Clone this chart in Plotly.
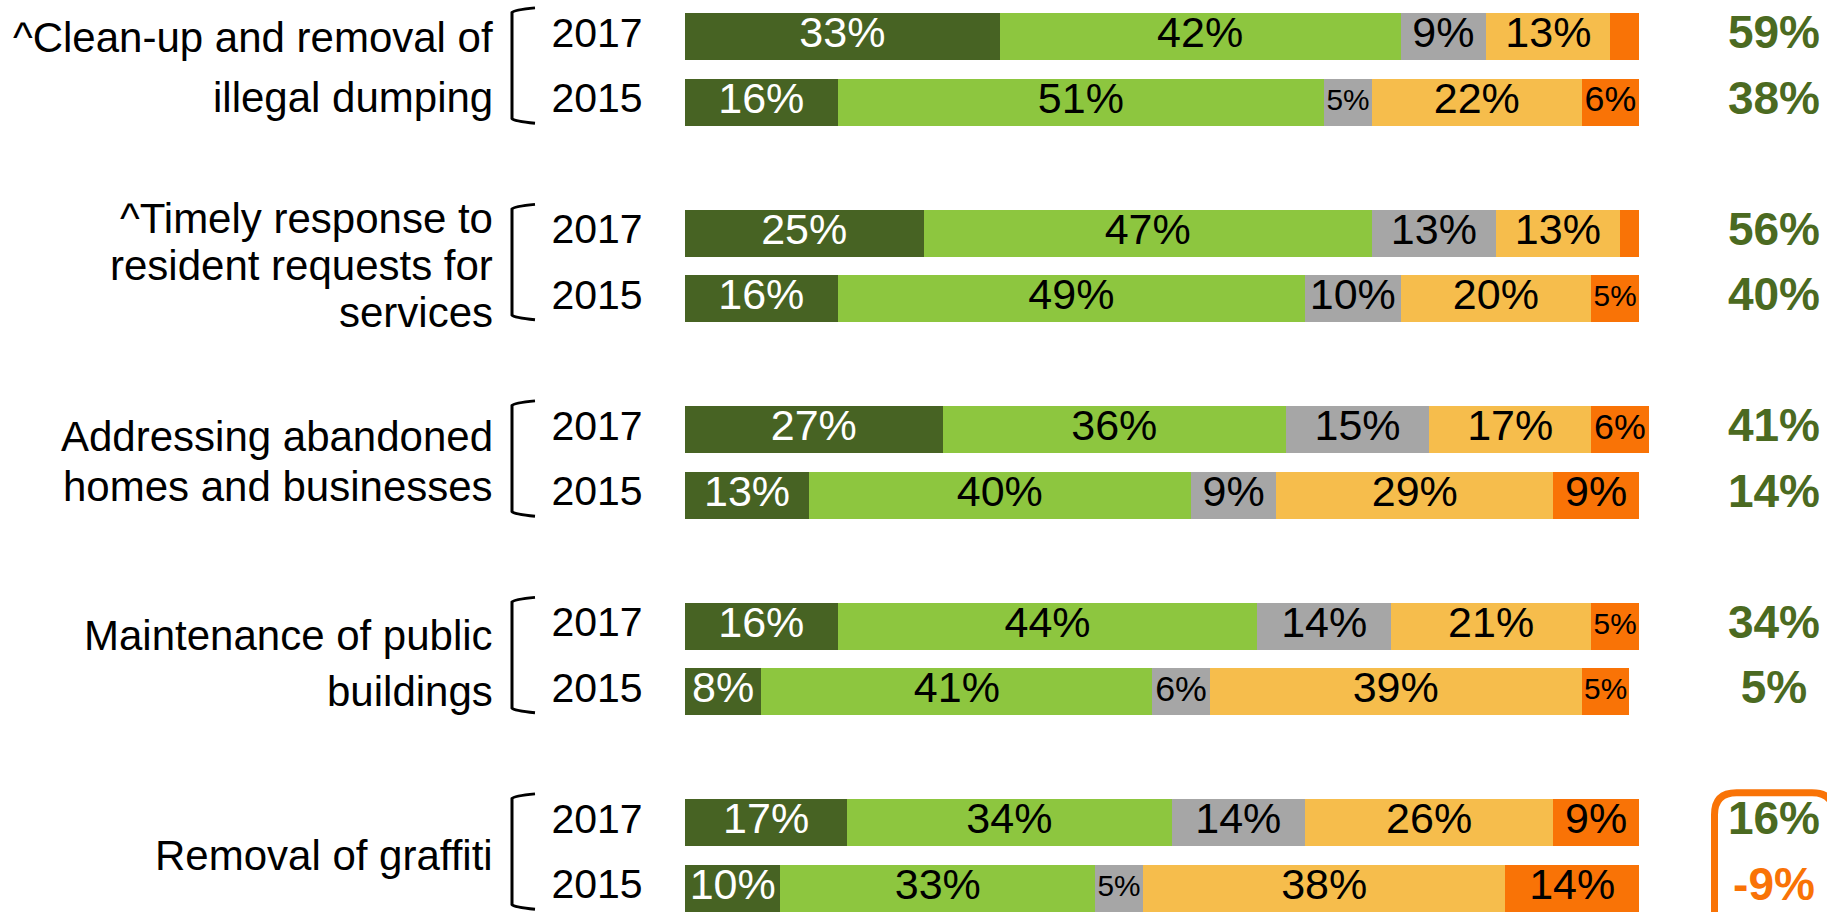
import plotly.graph_objects as go

W, H = 1827, 912
FONT = "Liberation Sans, Arial, sans-serif"

# Survey items and the two survey years shown for each
groups = [
    "^Clean-up and removal of<br>illegal dumping",
    "^Timely response to<br>resident requests for<br>services",
    "Addressing abandoned<br>homes and businesses",
    "Maintenance of public<br>buildings",
    "Removal of graffiti",
]
years = ["2017", "2015"]

# Percent of respondents per rating (2017, 2015 for each item)
very_satisfied = [33, 16, 25, 16, 27, 13, 16, 8, 17, 10]
satisfied = [42, 51, 47, 49, 36, 40, 44, 41, 34, 33]
neutral = [9, 5, 13, 10, 15, 9, 14, 6, 14, 5]
dissatisfied = [13, 22, 13, 20, 17, 29, 21, 39, 26, 38]
very_dissatisfied = [3, 6, 2, 5, 6, 9, 5, 5, 9, 14]

# Net satisfaction per row
net = [59, 38, 56, 40, 41, 14, 34, 5, 16, -9]

series = [
    ("Very satisfied", very_satisfied, "#476323", "white"),
    ("Satisfied", satisfied, "#8dc63f", "black"),
    ("Neutral", neutral, "#a6a6a6", "black"),
    ("Dissatisfied", dissatisfied, "#f6bd4c", "black"),
    ("Very dissatisfied", very_dissatisfied, "#f97306", "black"),
]

GREEN_TXT = "#4b6a21"
ORANGE = "#f97306"

# ---- layout geometry (pixels) ----
X0_PX, X100_PX = 685, 1639          # where 0% and 100% fall
PX_PER_PCT = (X100_PX - X0_PX) / 100.0
ROW0_PX, ROW_PX = 36.7, 65.5         # first row centre, row pitch
BAR_W = 0.72
LABEL_RIGHT_PX = 495
YEAR_CX_PX = 597
NET_CX_PX = 1774
BRACKET_X_PX, BRACKET_ARM_PX = 512, 535
LINE_GAP = [60, 47, 50, 56, 0]       # label line spacing per item
LABEL_DROP = [-2, 0, -1, 5, 0]       # small vertical nudge per item label
BAR_FONT = 43


def px_x(v):
    return (v - X0_PX) / PX_PER_PCT


def row_px(r):
    return ROW0_PX + r * ROW_PX


rows = [3 * g + i for g in range(len(groups)) for i in range(len(years))]
row_years = years * len(groups)

fig = go.Figure()

base = [0] * len(rows)
for name, vals, color, tcolor in series:
    fig.add_trace(go.Bar(
        y=rows, x=vals, orientation="h", width=BAR_W, name=name,
        marker=dict(color=color, line=dict(width=0)),
        hoverinfo="skip", showlegend=False,
    ))
    mids = [b + v / 2 for b, v in zip(base, vals)]
    sizes = [min(BAR_FONT, v * PX_PER_PCT / 1.6) for v in vals]
    texts = [f"{v}%" if v >= 5 else "" for v in vals]
    fig.add_trace(go.Scatter(
        x=mids, y=rows, mode="text", text=texts, textposition="middle center",
        textfont=dict(family=FONT, size=sizes, color=tcolor),
        hoverinfo="skip", showlegend=False,
    ))
    base = [b + v for b, v in zip(base, vals)]

# Year labels beside each bar
fig.add_trace(go.Scatter(
    x=[px_x(YEAR_CX_PX)] * len(rows), y=rows, mode="text", text=row_years,
    textposition="middle center", textfont=dict(family=FONT, size=41, color="black"),
    hoverinfo="skip", showlegend=False,
))

# Net satisfaction column
fig.add_trace(go.Scatter(
    x=[px_x(NET_CX_PX)] * len(rows), y=rows, mode="text",
    text=[f"<b>{v}%</b>" for v in net], textposition="middle center",
    textfont=dict(family=FONT, size=46,
                  color=[GREEN_TXT if v >= 0 else ORANGE for v in net]),
    hoverinfo="skip", showlegend=False,
))

annotations = []
shapes = []
for g, label in enumerate(groups):
    r17, r15 = 3 * g, 3 * g + 1
    centre = (r17 + r15) / 2
    lines = label.split("<br>")
    n = len(lines)
    for k, line in enumerate(lines):
        annotations.append(dict(
            xref="paper", yref="y", x=LABEL_RIGHT_PX / W, y=centre,
            yshift=-(k - (n - 1) / 2) * LINE_GAP[g] - LABEL_DROP[g],
            text=line, showarrow=False, xanchor="right", yanchor="middle",
            font=dict(family=FONT, size=42, color="black"),
        ))
    # bracket joining the two years of an item
    top = r17 - 0.40
    bot = r15 + 0.28
    xa, xv = BRACKET_ARM_PX / W, BRACKET_X_PX / W
    shapes.append(dict(
        type="path", xref="paper", yref="y",
        path=(f"M {xa},{top - 0.04} Q {xv + 2 / W},{top - 0.01} {xv},{top + 0.03} "
              f"L {xv},{bot - 0.03} Q {xv + 2 / W},{bot + 0.01} {xa},{bot + 0.04}"),
        line=dict(color="black", width=3),
    ))

# Highlight box around the last item's net values
last17, last15 = rows[-2], rows[-1]
bx0 = (NET_CX_PX - 59.5) / W
bx1 = (NET_CX_PX + 60) / W
by0 = 1 - (row_px(last17) - 30) / H
by1 = 1 - (row_px(last15) + 46) / H
rx, ry = 22 / W, 22 / H
shapes.append(dict(
    type="path", xref="paper", yref="paper",
    path=(f"M {bx0 + rx},{by0} L {bx1 - rx},{by0} Q {bx1},{by0} {bx1},{by0 - ry} "
          f"L {bx1},{by1 + ry} Q {bx1},{by1} {bx1 - rx},{by1} "
          f"L {bx0 + rx},{by1} Q {bx0},{by1} {bx0},{by1 + ry} "
          f"L {bx0},{by0 - ry} Q {bx0},{by0} {bx0 + rx},{by0} Z"),
    line=dict(color=ORANGE, width=7),
))

fig.update_layout(
    width=W, height=H, autosize=False,
    margin=dict(l=0, r=0, t=0, b=0, pad=0),
    paper_bgcolor="white", plot_bgcolor="white",
    barmode="stack", bargap=0, showlegend=False, hovermode=False,
    xaxis=dict(range=[px_x(0), px_x(W)], visible=False, fixedrange=True),
    yaxis=dict(range=[(H - ROW0_PX) / ROW_PX, -ROW0_PX / ROW_PX],
               visible=False, fixedrange=True),
    annotations=annotations, shapes=shapes,
)

fig.write_html("out.html", config={"displayModeBar": False})
